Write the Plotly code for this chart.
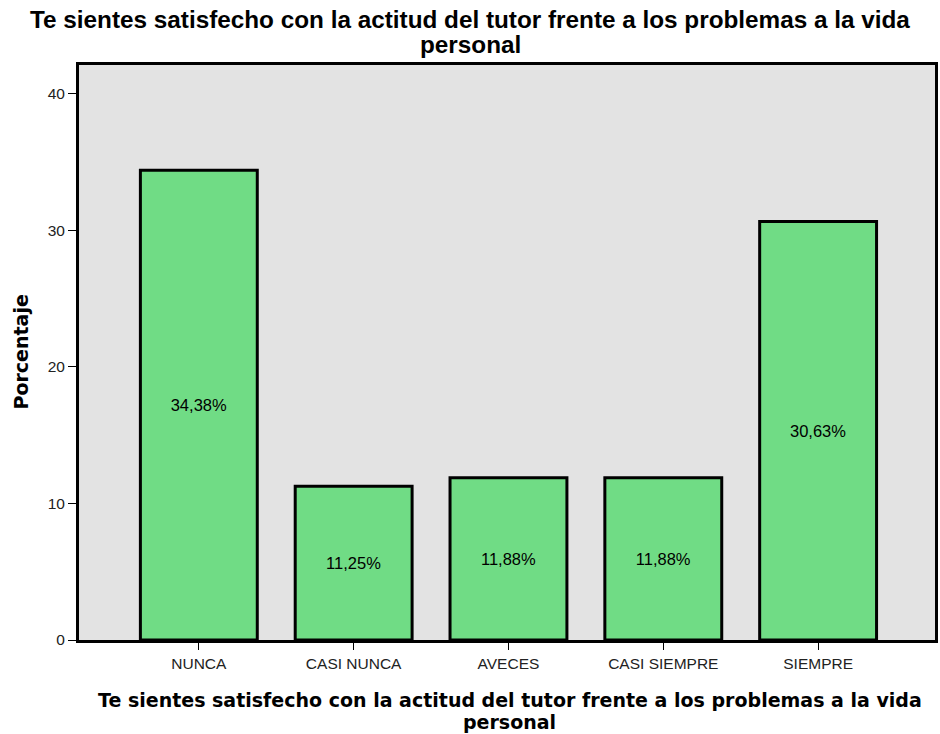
import plotly.graph_objects as go

categories = ["NUNCA", "CASI NUNCA", "AVECES", "CASI SIEMPRE", "SIEMPRE"]
values = [34.38, 11.25, 11.88, 11.88, 30.63]
labels = ["34,38%", "11,25%", "11,88%", "11,88%", "30,63%"]
y_ticks = [0, 10, 20, 30, 40]

title_line1 = "Te sientes satisfecho con la actitud del tutor frente a los problemas a la vida"
title_line2 = "personal"
y_title = "Porcentaje"

fig = go.Figure(go.Bar(
    x=categories, y=values, text=labels,
    textposition="inside", insidetextanchor="middle", textangle=0,
    textfont=dict(family="Liberation Sans, Arial, sans-serif", size=16.5, color="black"),
    marker=dict(color="#70DC85", line=dict(color="black", width=3)),
    width=0.755,
))

title_font = dict(family="Liberation Sans, Arial, sans-serif", size=24.3, color="black", weight="bold")
axis_title_font = dict(family="DejaVu Sans, Verdana, sans-serif", size=19, color="black", weight="bold")

annotations = [
    dict(text=title_line1, x=0.4568, y=1.0790, font=title_font),
    dict(text=title_line2, x=0.4568, y=1.0365, font=title_font),
    dict(text=title_line1, x=0.503, y=-0.104, font=axis_title_font),
    dict(text=title_line2, x=0.503, y=-0.1425, font=axis_title_font),
    dict(text=y_title, x=-0.0683, y=0.5009, textangle=-90, font=axis_title_font),
]
for a in annotations:
    a.update(xref="paper", yref="paper", xanchor="center", yanchor="middle", showarrow=False)

fig.update_layout(
    width=940, height=734,
    margin=dict(l=78.5, r=4.5, t=64.5, b=93.5),
    paper_bgcolor="white", plot_bgcolor="#E3E3E3",
    showlegend=False,
    font=dict(family="Liberation Sans, Arial, sans-serif", color="black"),
    uniformtext=dict(mode=False),
    annotations=annotations,
)

fig.update_xaxes(
    type="category", range=[-0.774, 4.755], automargin=False,
    showline=True, linecolor="black", linewidth=3, mirror=True,
    ticks="outside", ticklen=7, tickwidth=1, tickcolor="black",
    tickfont=dict(size=15.5, color="#222"),
    showgrid=False,
)
fig.update_yaxes(
    range=[0, 42.08], tickvals=y_ticks, automargin=False,
    showline=True, linecolor="black", linewidth=3, mirror=True,
    ticks="outside", ticklen=8, tickwidth=1, tickcolor="black",
    tickfont=dict(size=15.5, color="#222"),
    showgrid=False, zeroline=False,
)

fig.write_html("out.html", config={"displayModeBar": False},
               post_script="document.body.style.margin='0';")
